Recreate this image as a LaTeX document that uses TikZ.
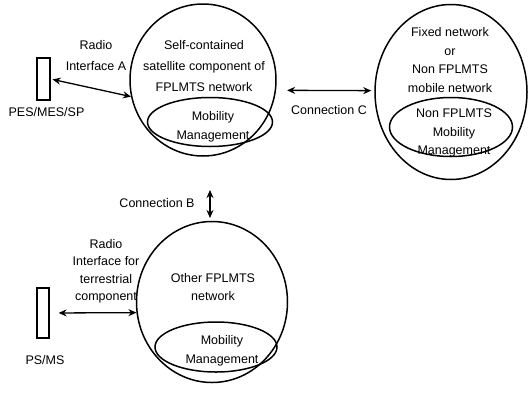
\documentclass[tikz,border=0pt]{standalone}
\usepackage{fontspec}
\setmainfont{Liberation Sans}
\usetikzlibrary{arrows.meta, shapes.geometric}

\begin{document}
\begin{tikzpicture}[
        x=1pt, y=-1pt,
        >={Stealth[length=8pt, width=7pt]},
        font=\fontsize{12.5}{18.5}\selectfont,
        net/.style={draw, ellipse, line width=1.5pt, inner sep=0pt},
        term/.style={draw, rectangle, line width=1.2pt, inner sep=0pt},
        txt/.style={align=center, inner sep=0pt},
        link/.style={<->, line width=1.3pt},
    ]
        \useasboundingbox (0,0) rectangle (530,405);

        % Draw the network ellipses
        \node[net, minimum width=146pt, minimum height=152pt] (sat) at (203,80) {};
        \node[net, minimum width=125pt, minimum height=49pt] (sat-mm) at (210,122) {};
        \node[net, minimum width=152pt, minimum height=175pt] (fix) at (451,92) {};
        \node[net, minimum width=123pt, minimum height=59pt] (fix-mm) at (451,127) {};
        \node[net, minimum width=151pt, minimum height=161pt] (oth) at (212,302) {};
        \node[net, minimum width=122pt, minimum height=50pt] (oth-mm) at (216,347) {};

        % Texts inside the networks
        \node[txt, font=\fontsize{12.5}{21}\selectfont] (sat-txt) at (204,66) {Self-contained\\satellite component of\\FPLMTS network};
        \node[txt] (sat-mm-txt) at (213,127) {Mobility\\Management};
        \node[txt] (fix-txt) at (450,60) {Fixed network\\or\\Non FPLMTS\\mobile network};
        \node[txt] (fix-mm-txt) at (454,133) {Non FPLMTS\\Mobility\\Management};
        \node[txt] (oth-txt) at (213,287) {Other FPLMTS\\network};
        \node[txt] (oth-mm-txt) at (222,351) {Mobility\\Management};

        % Draw the terminals
        \node[term, minimum width=13pt, minimum height=42pt] (pes) at (43.5,79) {};
        \node[term, minimum width=12pt, minimum height=50pt] (ps) at (43,313) {};
        \node[txt] (pes-lbl) at (46.5,112) {PES/MES/SP};
        \node[txt] (ps-lbl) at (45,360) {PS/MS};

        % Connect the terminals with the networks
        \draw[link, shorten <=2pt] (pes.east) -- (sat.193);
        \node[txt, font=\fontsize{12.5}{21}\selectfont] (radio-a) at (96,56) {Radio\\Interface A};
        \draw[link, shorten <=9pt] (ps.east) -- (oth.188);
        \node[txt, font=\fontsize{12.5}{17.5}\selectfont] (radio-t) at (106,271.5) {Radio\\Interface for\\terrestrial\\component};

        % Connections between the networks
        \draw[link, shorten <=11pt, shorten >=3pt] (sat.-8) -- (fix.179);
        \node[txt] (conn-c) at (329,110) {Connection C};
        \coordinate (b-top) at (210,190);
        \coordinate (b-bot) at (210,218);
        \draw[link] (b-top) -- (b-bot);
        \node[txt] (conn-b) at (157,203) {Connection B};
\end{tikzpicture}
\end{document}
